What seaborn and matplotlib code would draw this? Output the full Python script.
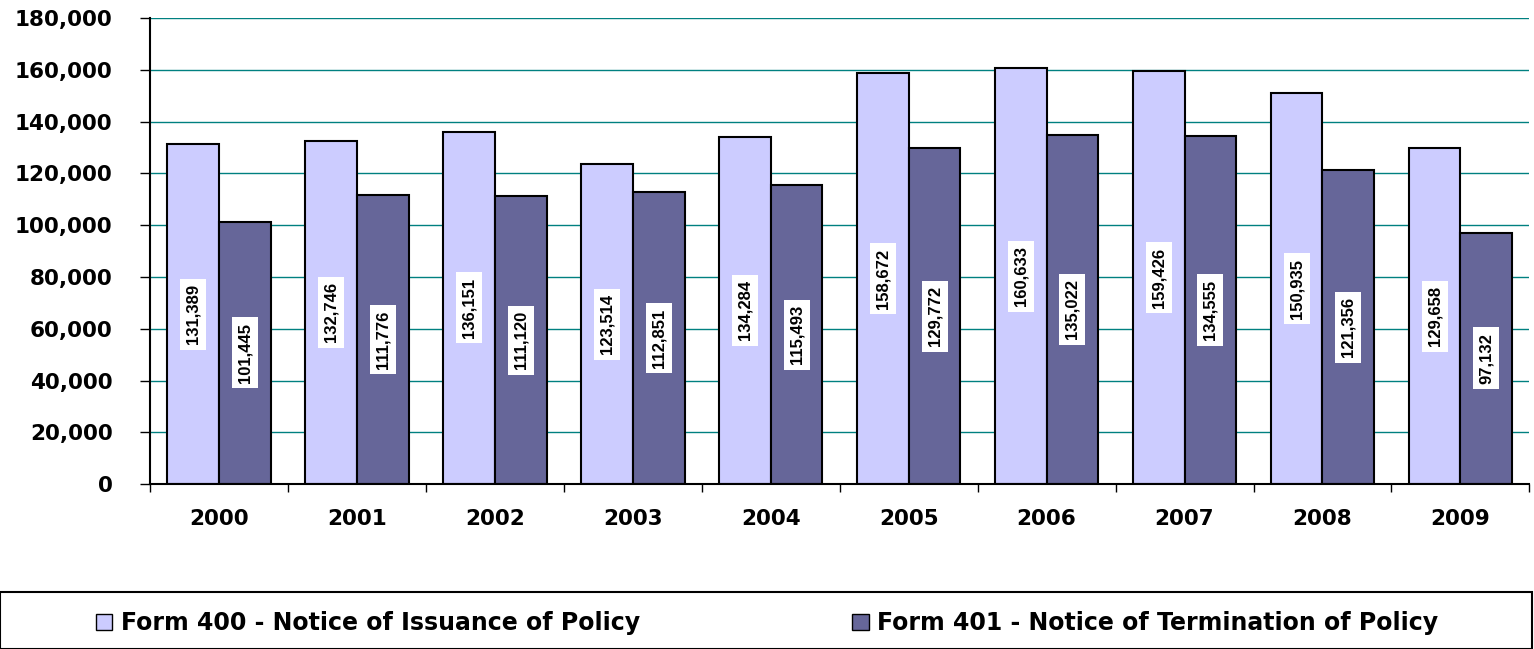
import pandas as pd
import seaborn as sns
from matplotlib import pyplot as plt
from matplotlib.patches import Rectangle
from matplotlib.ticker import FuncFormatter, FixedLocator

years = ['2000', '2001', '2002', '2003', '2004', '2005', '2006', '2007', '2008', '2009']
form_400 = [131389, 132746, 136151, 123514, 134284, 158672, 160633, 159426, 150935, 129658]
form_401 = [101445, 111776, 111120, 112851, 115493, 129772, 135022, 134555, 121356, 97132]
series_names = ['Form 400 - Notice of Issuance of Policy', 'Form 401 - Notice of Termination of Policy']
colors = ['#CCCCFF', '#666699']

df = pd.DataFrame({
    'year': years * 2,
    'count': form_400 + form_401,
    'form': [series_names[0]] * len(years) + [series_names[1]] * len(years),
})

sns.set_style('white')
plt.rcParams['font.family'] = ['DejaVu Sans']
plt.rcParams['text.color'] = 'black'
plt.rcParams['xtick.color'] = 'black'
plt.rcParams['ytick.color'] = 'black'

fig = plt.figure(figsize=(15.34, 6.49), dpi=100)
ax = fig.add_axes([0.0978, 0.254, 0.8992, 0.718])

sns.barplot(data=df, x='year', y='count', hue='form', palette=colors, width=0.75,
            edgecolor='black', linewidth=1.5, saturation=1, ax=ax, legend=False)

# value labels, rotated, on a white box at mid-height of each bar
for container in ax.containers:
    for bar in container:
        h = bar.get_height()
        ax.text(bar.get_x() + bar.get_width() / 2, h / 2, f"{int(h):,}",
                rotation=90, ha='center', va='center', fontsize=12, color='black',
                family=['Liberation Sans Narrow', 'Liberation Sans'], fontweight='bold',
                bbox=dict(facecolor='white', edgecolor='none', pad=4))

ax.set_ylim(0, 180000)
ax.set_xlim(-0.5, 9.5)
ax.set_yticks(range(0, 180001, 20000))
ax.yaxis.set_major_formatter(FuncFormatter(lambda v, p: f"{int(v):,}"))
ax.grid(axis='y', color='#008080', linewidth=1)
ax.set_axisbelow(True)
ax.set_xlabel('')
ax.set_ylabel('')
for s in ['top', 'right']:
    ax.spines[s].set_visible(False)
for s in ['left', 'bottom']:
    ax.spines[s].set_color('black')
    ax.spines[s].set_linewidth(1.5)

ax.tick_params(axis='y', which='major', direction='out', length=7, width=1,
               labelsize=15.5, pad=20, left=True)
ax.tick_params(axis='x', which='major', length=0, labelsize=15.5, pad=18)
ax.xaxis.set_minor_locator(FixedLocator([i - 0.5 for i in range(len(years) + 1)]))
ax.tick_params(axis='x', which='minor', direction='out', length=6, width=1, bottom=True)
for lbl in ax.get_xticklabels() + ax.get_yticklabels():
    lbl.set_fontweight('bold')

# legend box at the bottom
fig.patches.append(Rectangle((0.0, 0.0), 0.999, (649 - 592) / 649, transform=fig.transFigure,
                             fill=False, edgecolor='black', linewidth=1.5))
handles = [Rectangle((0, 0), 1, 1, facecolor=c, edgecolor='black', linewidth=1) for c in colors]
fig.legend(handles, series_names, loc='center', bbox_to_anchor=(0.5, 0.04), ncol=2,
           frameon=False, handlelength=0.7, handleheight=0.7, handletextpad=0.35,
           columnspacing=9.0, prop={'weight': 'bold', 'size': 17})

fig.savefig('out.png', dpi=100)
